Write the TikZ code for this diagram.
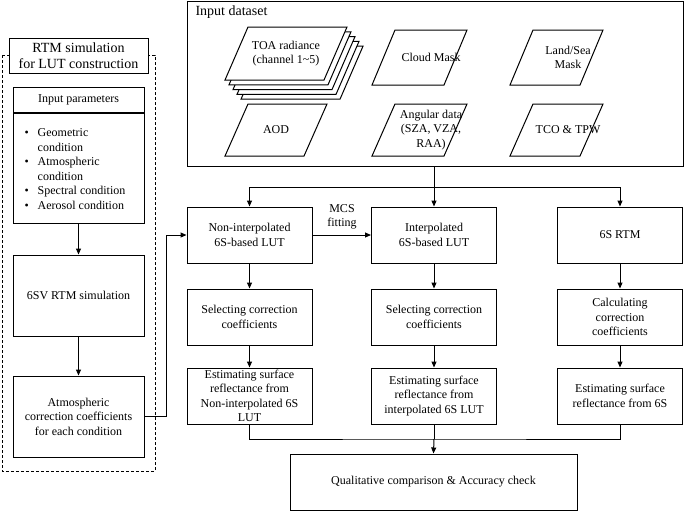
\documentclass[tikz,border=0pt]{standalone}
\usepackage{fontspec}
\setmainfont{Liberation Serif}
\usetikzlibrary{arrows.meta}
\newcommand{\pgram}[4]{\draw[fill=white] (#1,#2) -- ++(23,-#4) -- ++(#3,0) -- ++(-23,#4) -- cycle;}
\newcommand{\mybul}{{\fontsize{12}{12}\selectfont\textbullet}}
\begin{document}
\begin{tikzpicture}[x=1pt,y=-1pt, line width=1pt,
  txt/.style={align=center, font=\fontsize{12}{14.5}\selectfont, inner sep=0pt},
  box/.style={draw, txt, minimum width=125pt, minimum height=56pt},
  lbox/.style={draw, txt, minimum width=131pt},
  arr/.style={-{Triangle[length=6pt,width=5pt]}},
  ]
\useasboundingbox (0,0) rectangle (685,512);
% ---------- Input dataset ----------
\node[draw, minimum width=496pt, minimum height=165pt, inner sep=0pt] (inbox) at (435,83.5) {};
\node[anchor=west, font=\fontsize{14}{16}\selectfont, inner sep=0pt] (intitle) at (195,12) {Input dataset};
\foreach \k in {4,3,2,1} {\pgram{225+4*\k}{80+4.8*\k}{99}{53}}
\pgram{225}{80}{99}{53}
\node[txt] (toa) at (286,53.5) {TOA radiance\\(channel 1\textasciitilde5)};
\pgram{372}{85}{72}{55}
\node[txt] (cloud) at (431,57.5) {Cloud Mask};
\pgram{510}{85}{70}{55}
\node[txt] (land) at (568,57.5) {Land/Sea\\Mask};
\pgram{225}{156}{79}{52}
\node[txt] (aod) at (276,130) {AOD};
\pgram{372}{156}{72}{52}
\node[txt] (ang) at (431,130) {Angular data\\(SZA, VZA,\\RAA)};
\pgram{510}{156}{70}{52}
\node[txt] (tco) at (568,130) {TCO \& TPW};
% ---------- Columns ----------
\node[box] (b1) at (249.5,235) {Non-interpolated\\6S-based LUT};
\node[box] (b2) at (434,235) {Interpolated\\6S-based LUT};
\node[box] (b3) at (620,235) {6S RTM};
\node[box] (c1) at (249.5,317) {Selecting correction\\coefficients};
\node[box] (c2) at (434,317) {Selecting correction\\coefficients};
\node[box] (c3) at (620,317) {Calculating\\correction\\coefficients};
\node[box] (d1) at (249.5,396) {Estimating surface\\reflectance from\\Non-interpolated 6S\\LUT};
\node[box] (d2) at (434,396) {Estimating surface\\reflectance from\\interpolated 6S LUT};
\node[box] (d3) at (620,396) {Estimating surface\\reflectance from 6S};
\node[draw, txt, minimum width=287pt, minimum height=56pt] (fin) at (433.5,482) {Qualitative comparison \& Accuracy check};
% ---------- Left RTM panel ----------
\draw[dash pattern=on 3pt off 2pt] (2,55) rectangle (155,471);
\node[draw, fill=white, align=center, font=\fontsize{14}{16}\selectfont, minimum width=139pt, minimum height=35pt, inner sep=0pt] (rtm) at (78.5,55.5) {RTM simulation\\for LUT construction};
\node[lbox, minimum height=25pt] (iph) at (78.5,99.5) {Input parameters};
\node[lbox, minimum height=110pt, anchor=north] (ipb) at (iph.south) {};
\node[txt, anchor=north west, align=left] (iplist) at (24,126) {%
\begin{tabular}{@{}l@{\hspace{9pt}}l@{}}
\mybul & Geometric\\
 & condition\\
\mybul & Atmospheric\\
 & condition\\
\mybul & Spectral condition\\
\mybul & Aerosol condition
\end{tabular}};
\node[lbox, minimum height=81pt] (sv) at (78.5,295.5) {6SV RTM simulation};
\node[lbox, minimum height=81pt] (atm) at (78.5,416.5) {Atmospheric\\correction coefficients\\for each condition};
% ---------- Connectors ----------
\coordinate (j) at (434,187);
\coordinate (k) at (434,439);
\draw (inbox.south -| j) -- (j);
\draw[arr] (j) -- (b2.north);
\draw[arr] (j) -| (b1.north);
\draw[arr] (j) -| (b3.north);
\draw[arr] (b1.east) -- (b2.west);
\node[txt] (mcs) at (342,217) {MCS\\fitting};
\draw[arr] (b1) -- (c1);
\draw[arr] (b2) -- (c2);
\draw[arr] (b3) -- (c3);
\draw[arr] (c1) -- (d1);
\draw[arr] (c2) -- (d2);
\draw[arr] (c3) -- (d3);
\draw (d1.south) |- (k) -| (d3.south);
\draw (d2.south) -- (k);
\draw[arr] (k) -- (fin.north);
\draw[arr] (ipb.south) -- (sv.north);
\draw[arr] (sv.south) -- (atm.north);
\draw[arr] (atm.east) -- ++(22,0) |- (b1.west);
\end{tikzpicture}
\end{document}
